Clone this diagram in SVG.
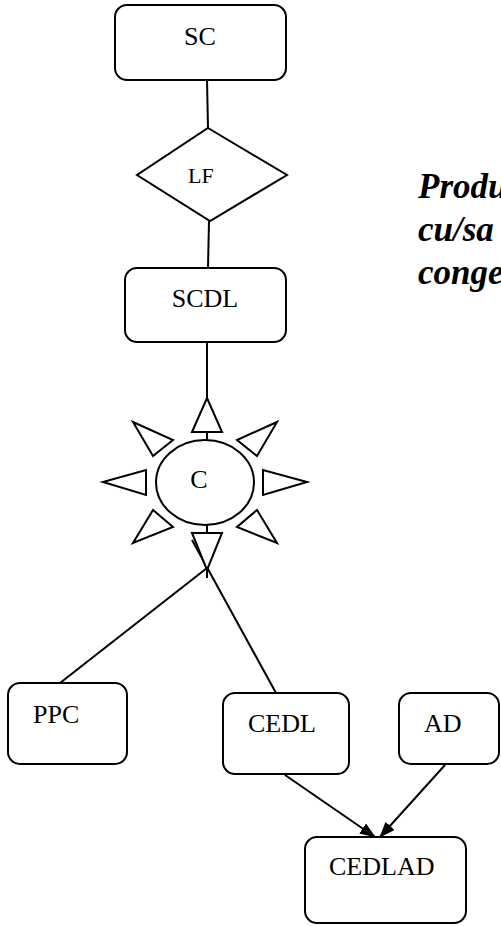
<svg xmlns="http://www.w3.org/2000/svg" width="501" height="926" viewBox="0 0 501 926">
  <style>
    .box { fill: #ffffff; stroke: #000000; stroke-width: 2; }
    .shape { fill: #ffffff; stroke: #000000; stroke-width: 2; stroke-linejoin: miter; }
    .link { fill: none; stroke: #000000; stroke-width: 2; }
    .lbl { font-family: "Liberation Serif", "Times New Roman", serif; font-size: 26px; fill: #000000; }
    .note { font-family: "Liberation Serif", "Times New Roman", serif; font-size: 35px; font-weight: bold; font-style: italic; fill: #000000; }
  </style>
  <defs>
    <marker id="arrow" markerUnits="userSpaceOnUse" markerWidth="18" markerHeight="14" refX="15" refY="6" orient="auto">
      <path d="M0,0 L16,6 L0,12 z" fill="#000000"/>
    </marker>
  </defs>

  <!-- connectors -->
  <g id="connectors">
    <line class="link" x1="207" y1="80" x2="208" y2="128"/>
    <line class="link" x1="209" y1="221" x2="208" y2="268"/>
    <line class="link" x1="207" y1="342" x2="207" y2="398"/>
    <line class="link" x1="207" y1="568" x2="60" y2="683"/>
    <line class="link" x1="207" y1="565" x2="207" y2="578"/>
    <line class="link" x1="192" y1="540" x2="276" y2="693"/>
    <line class="link" x1="285" y1="775" x2="375" y2="837" marker-end="url(#arrow)"/>
    <line class="link" x1="445" y1="765" x2="380" y2="837" marker-end="url(#arrow)"/>
  </g>

  <g id="node-sc">
    <rect class="box" x="115" y="5" width="171" height="75" rx="12"/>
    <text class="lbl" x="200" y="45" text-anchor="middle">SC</text>
  </g>

  <g id="node-lf">
    <polygon class="shape" points="208,128 287,175 210,221 137,175"/>
    <text class="lbl" x="188" y="183" style="font-size:22px">LF</text>
  </g>

  <g id="node-scdl">
    <rect class="box" x="125" y="268" width="161" height="74" rx="12"/>
    <text class="lbl" x="205" y="307" text-anchor="middle">SCDL</text>
  </g>

  <g id="node-c">
    <line class="link" x1="207" y1="432" x2="207" y2="441"/>
    <line class="link" x1="207" y1="524" x2="207" y2="533"/>
    <ellipse class="shape" cx="205" cy="482.5" rx="49" ry="42.5"/>
    <!-- rays -->
    <polygon class="shape" points="207,398 222,432 192,432"/>
    <polygon class="shape" points="207,570 222,533 192,533"/>
    <polygon class="shape" points="103,482 146,470 146,495"/>
    <polygon class="shape" points="307,482 263,470 263,495"/>
    <polygon class="shape" points="133,422 173,440 153,456"/>
    <polygon class="shape" points="277,422 237,440 257,456"/>
    <polygon class="shape" points="153,510 173,527 133,543"/>
    <polygon class="shape" points="257,510 237,527 277,543"/>
    <text class="lbl" x="199" y="488" text-anchor="middle">C</text>
  </g>

  <g id="node-ppc">
    <rect class="box" x="8" y="683" width="119" height="81" rx="12"/>
    <text class="lbl" x="33" y="723">PPC</text>
  </g>

  <g id="node-cedl">
    <rect class="box" x="223" y="693" width="126" height="81" rx="12"/>
    <text class="lbl" x="248" y="732">CEDL</text>
  </g>

  <g id="node-ad">
    <rect class="box" x="399" y="693" width="100" height="71" rx="12"/>
    <text class="lbl" x="424" y="732">AD</text>
  </g>

  <g id="node-cedlad">
    <rect class="box" x="305" y="837" width="161" height="86" rx="12"/>
    <text class="lbl" x="329" y="875">CEDLAD</text>
  </g>

  <g id="caption">
    <text class="note" x="418" y="198">Produ</text>
    <text class="note" x="418" y="241">cu/sa</text>
    <text class="note" x="418" y="284">conge</text>
  </g>
</svg>
